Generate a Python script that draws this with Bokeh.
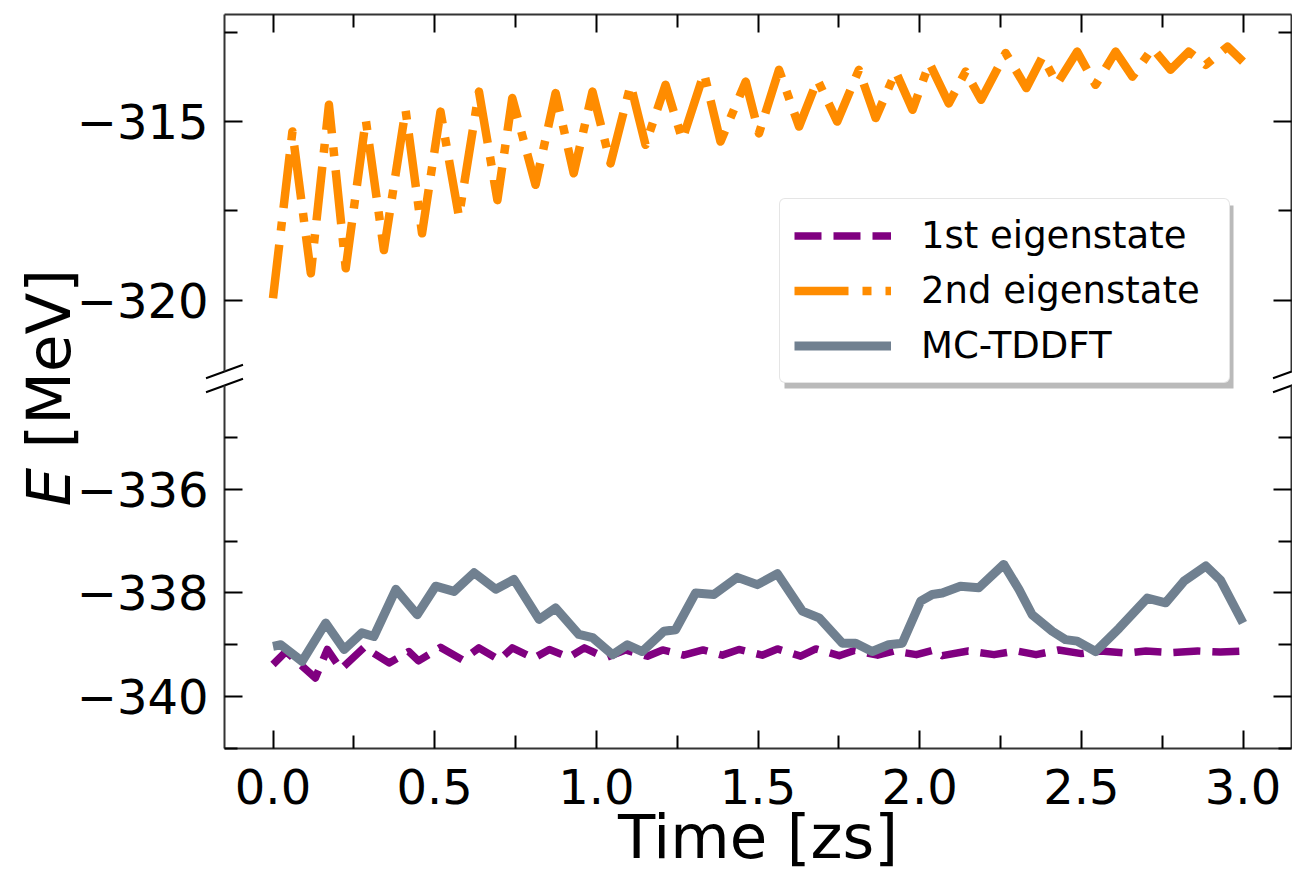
from bokeh.plotting import figure
from bokeh.models import (LinearAxis, FixedTicker, CustomJSTickFormatter, Range1d,
                          Legend, LegendItem, Label, BoxAnnotation)
from bokeh.embed import file_html
from bokeh.resources import INLINE

# ---------------- data ----------------
time_1st = [0.000, 0.040, 0.131, 0.168, 0.210, 0.282, 0.359, 0.420, 0.450, 0.518,
            0.586, 0.637, 0.700, 0.740, 0.806, 0.855, 0.915, 0.963, 1.029, 1.090,
            1.158, 1.205, 1.270, 1.330, 1.390, 1.441, 1.513, 1.560, 1.632, 1.679,
            1.751, 1.798, 1.870, 1.920, 1.990, 2.044, 2.070, 2.150, 2.230, 2.300,
            2.360, 2.430, 2.500, 2.560, 2.640, 2.700, 2.780, 2.860, 2.930, 3.000]
energy_1st = [-339.38, -339.13, -339.64, -339.09, -339.47, -339.05, -339.35, -339.13, -339.31, -339.05,
              -339.29, -339.06, -339.29, -339.06, -339.26, -339.09, -339.24, -339.06, -339.25, -339.10,
              -339.22, -339.10, -339.20, -339.10, -339.20, -339.09, -339.20, -339.08, -339.22, -339.08,
              -339.21, -339.11, -339.20, -339.12, -339.19, -339.10, -339.21, -339.12, -339.19, -339.12,
              -339.19, -339.10, -339.17, -339.12, -339.16, -339.12, -339.15, -339.12, -339.14, -339.12]

time_2nd = [0.000, 0.060, 0.117, 0.173, 0.225, 0.287, 0.343, 0.410, 0.461, 0.518,
            0.575, 0.637, 0.694, 0.740, 0.812, 0.874, 0.930, 0.988, 1.044, 1.106,
            1.152, 1.214, 1.266, 1.333, 1.384, 1.462, 1.503, 1.565, 1.627, 1.684,
            1.745, 1.812, 1.864, 1.926, 1.978, 2.030, 2.090, 2.142, 2.190, 2.266,
            2.330, 2.380, 2.425, 2.487, 2.544, 2.606, 2.658, 2.720, 2.776, 2.832,
            2.885, 2.952, 3.000]
energy_2nd = [-319.95, -315.28, -319.25, -314.53, -319.11, -314.95, -318.60, -314.67, -318.13, -314.72,
              -317.66, -314.16, -317.20, -314.34, -316.77, -314.20, -316.45, -314.16, -316.17, -313.97,
              -315.65, -313.97, -315.51, -313.64, -315.56, -313.88, -315.33, -313.55, -315.14, -313.83,
              -315.00, -313.55, -314.90, -313.60, -314.67, -313.36, -314.49, -313.60, -314.39, -313.08,
              -314.06, -313.18, -313.94, -313.04, -313.97, -313.04, -313.74, -312.94, -313.55, -313.04,
              -313.41, -312.90, -313.32]

time_mc = [0.000, 0.024, 0.090, 0.163, 0.220, 0.275, 0.312, 0.380, 0.446, 0.503,
           0.560, 0.622, 0.689, 0.745, 0.823, 0.874, 0.946, 0.988, 1.050, 1.096,
           1.142, 1.209, 1.245, 1.307, 1.364, 1.436, 1.498, 1.560, 1.637, 1.689,
           1.761, 1.802, 1.853, 1.904, 1.946, 2.003, 2.039, 2.070, 2.126, 2.183,
           2.260, 2.307, 2.348, 2.410, 2.451, 2.487, 2.544, 2.617, 2.704, 2.761,
           2.818, 2.885, 2.930, 3.000]
energy_mc = [-339.03, -339.00, -339.32, -338.58, -339.09, -338.77, -338.84, -337.93, -338.42, -337.87,
             -337.97, -337.61, -337.93, -337.74, -338.51, -338.29, -338.80, -338.86, -339.19, -339.00,
             -339.13, -338.74, -338.71, -338.00, -338.03, -337.70, -337.84, -337.63, -338.35, -338.48,
             -338.97, -338.97, -339.13, -339.00, -338.97, -338.16, -338.03, -338.00, -337.87, -337.90,
             -337.45, -337.93, -338.42, -338.74, -338.90, -338.93, -339.13, -338.68, -338.10, -338.19,
             -337.77, -337.48, -337.75, -338.58]

series_labels = ["1st eigenstate", "2nd eigenstate", "MC-TDDFT"]

x_limits = (-0.15, 3.15)
top_limits = (-322, -312)        # upper panel (2nd eigenstate)
bottom_limits = (-341, -334)     # lower panel
x_major = [0.0, 0.5, 1.0, 1.5, 2.0, 2.5, 3.0]
x_minor = [0.25, 0.75, 1.25, 1.75, 2.25, 2.75]
top_major = [-320, -315]
top_minor = [-317.5, -312.5]
bottom_major = [-340, -338, -336]
bottom_minor = [-341, -339, -337, -335]

# ---------------- layout (page pixels) ----------------
W, H = 1292, 871
FRAME_L, FRAME_R = 224, 1291
TOP_T, TOP_B = 14, 371
BOT_T, BOT_B = 385, 748
FONT = "DejaVu Sans"
TICK_FS = "48px"
LABEL_PX = 61
LABEL_FS = f"{LABEL_PX}px"
LEGEND_FS = "37px"

px_x = (FRAME_R - FRAME_L) / (x_limits[1] - x_limits[0])
px_top = (TOP_B - TOP_T) / (top_limits[1] - top_limits[0])
px_bot = (BOT_B - BOT_T) / (bottom_limits[1] - bottom_limits[0])


def xd(px):
    return x_limits[0] + (px - FRAME_L) / px_x


def ytop(py):
    return top_limits[0] + (TOP_B - py) / px_top


def ybot(py):
    return bottom_limits[0] + (BOT_B - py) / px_bot


p = figure(width=W, height=H, x_range=Range1d(xd(0), xd(W)),
           y_range=Range1d(ybot(H), ybot(0)),
           x_axis_type=None, y_axis_type=None, toolbar_location=None,
           output_backend="svg", min_border=0)
p.extra_y_ranges = {"top": Range1d(ytop(H), ytop(0))}
p.outline_line_color = None
p.background_fill_color = "white"
p.border_fill_color = "white"

y_fmt = CustomJSTickFormatter(code="return (tick < 0 ? '\u2212' : '') + Math.abs(tick).toFixed(0);")
x_fmt = CustomJSTickFormatter(code="return tick.toFixed(1);")
blank_fmt = CustomJSTickFormatter(code="return '';")


def style_axis(ax, show_labels):
    ax.axis_line_color = "#333333"
    ax.axis_line_width = 2
    ax.major_tick_line_color = "black"
    ax.major_tick_line_width = 2
    ax.major_tick_in = 18
    ax.major_tick_out = 0
    ax.minor_tick_line_color = "black"
    ax.minor_tick_line_width = 2
    ax.minor_tick_in = 13
    ax.minor_tick_out = 0
    if show_labels:
        ax.major_label_text_font = FONT
        ax.major_label_text_font_size = TICK_FS
        ax.major_label_text_color = "black"
    else:
        ax.major_label_standoff = 0


def add_axis(side, ticks, minor, fmt, loc, bounds, yname, labels, standoff=0):
    ax = LinearAxis(ticker=FixedTicker(ticks=ticks, minor_ticks=minor), formatter=fmt,
                    fixed_location=loc, bounds=bounds, y_range_name=yname)
    style_axis(ax, labels)
    if labels:
        ax.major_label_standoff = standoff
    p.add_layout(ax, side)


# upper panel axes
add_axis("left", top_major, top_minor, y_fmt, x_limits[0], top_limits, "top", True, 16)
add_axis("right", top_major, top_minor, blank_fmt, x_limits[1], top_limits, "top", False)
add_axis("above", x_major, x_minor, blank_fmt, top_limits[1], x_limits, "top", False)
# lower panel axes
add_axis("left", bottom_major, bottom_minor, y_fmt, x_limits[0], bottom_limits, "default", True, 16)
add_axis("right", bottom_major, bottom_minor, blank_fmt, x_limits[1], bottom_limits, "default", False)
add_axis("below", x_major, x_minor, x_fmt, bottom_limits[0], x_limits, "default", True, 20)

# series
r1 = p.line(time_1st, energy_1st, color="#800080", line_width=7.5, line_dash="27 12",
            line_join="round")
r2 = p.line(time_2nd, energy_2nd, color="#FF8C00", line_width=8.5, line_dash="54 14 9 14",
            line_join="round", y_range_name="top")
r3 = p.line(time_mc, energy_mc, color="#708090", line_width=9, line_join="round")

# broken-axis marks
dx = 18.5 / px_x
for xb in x_limits:
    dyt = 6.7 / px_top
    p.line([xb - dx, xb + dx], [top_limits[0] - dyt, top_limits[0] + dyt],
           color="black", line_width=2, y_range_name="top")
    dyb = 6.7 / px_bot
    p.line([xb - dx, xb + dx], [bottom_limits[1] - dyb, bottom_limits[1] + dyb],
           color="black", line_width=2)

# legend with shadow
LEG_L, LEG_T, LEG_R, LEG_B = 779, 200, 1228, 383
p.add_layout(BoxAnnotation(left=xd(LEG_L + 5), right=xd(LEG_R + 5),
                           top=ybot(LEG_T + 5), bottom=ybot(LEG_B + 5),
                           fill_color="#8c8c8c", fill_alpha=0.6, line_color=None))
legend = Legend(items=[LegendItem(label=lab, renderers=[r])
                       for lab, r in zip(series_labels, [r1, r2, r3])],
                location=(LEG_L, H - LEG_B))
legend.label_text_font = FONT
legend.label_text_font_size = LEGEND_FS
legend.label_text_color = "black"
legend.glyph_width = 97
legend.glyph_height = 45
legend.label_height = 45
legend.label_width = 294
legend.label_standoff = 30
legend.spacing = 10
legend.padding = 14
legend.margin = 0
legend.border_line_color = "#cccccc"
legend.border_line_width = 1.5
legend.background_fill_color = "white"
legend.background_fill_alpha = 1.0
if hasattr(legend, "border_radius"):
    legend.border_radius = 6
p.add_layout(legend)

# axis titles (Bokeh draws the alphabetic baseline ~0.345 em below the anchor here)
BASE_SHIFT = round(0.345 * LABEL_PX)
p.add_layout(Label(x=1.5, y=ybot(857 - BASE_SHIFT), text="Time [zs]", text_align="center",
                   text_baseline="alphabetic", text_font=FONT,
                   text_font_size=LABEL_FS, text_color="black"))
E_START = 506
p.add_layout(Label(x=xd(69 - BASE_SHIFT), y=ybot(E_START), text="E", angle=90, angle_units="deg",
                   text_align="left", text_baseline="alphabetic", text_font=FONT,
                   text_font_style="italic", text_font_size=LABEL_FS, text_color="black"))
p.add_layout(Label(x=xd(69 - BASE_SHIFT), y=ybot(E_START - 0.95 * LABEL_PX), text="[MeV]",
                   angle=90, angle_units="deg",
                   text_align="left", text_baseline="alphabetic", text_font=FONT,
                   text_font_size=LABEL_FS, text_color="black"))

with open("out.html", "w", encoding="utf-8") as f:
    f.write(file_html(p, INLINE))
